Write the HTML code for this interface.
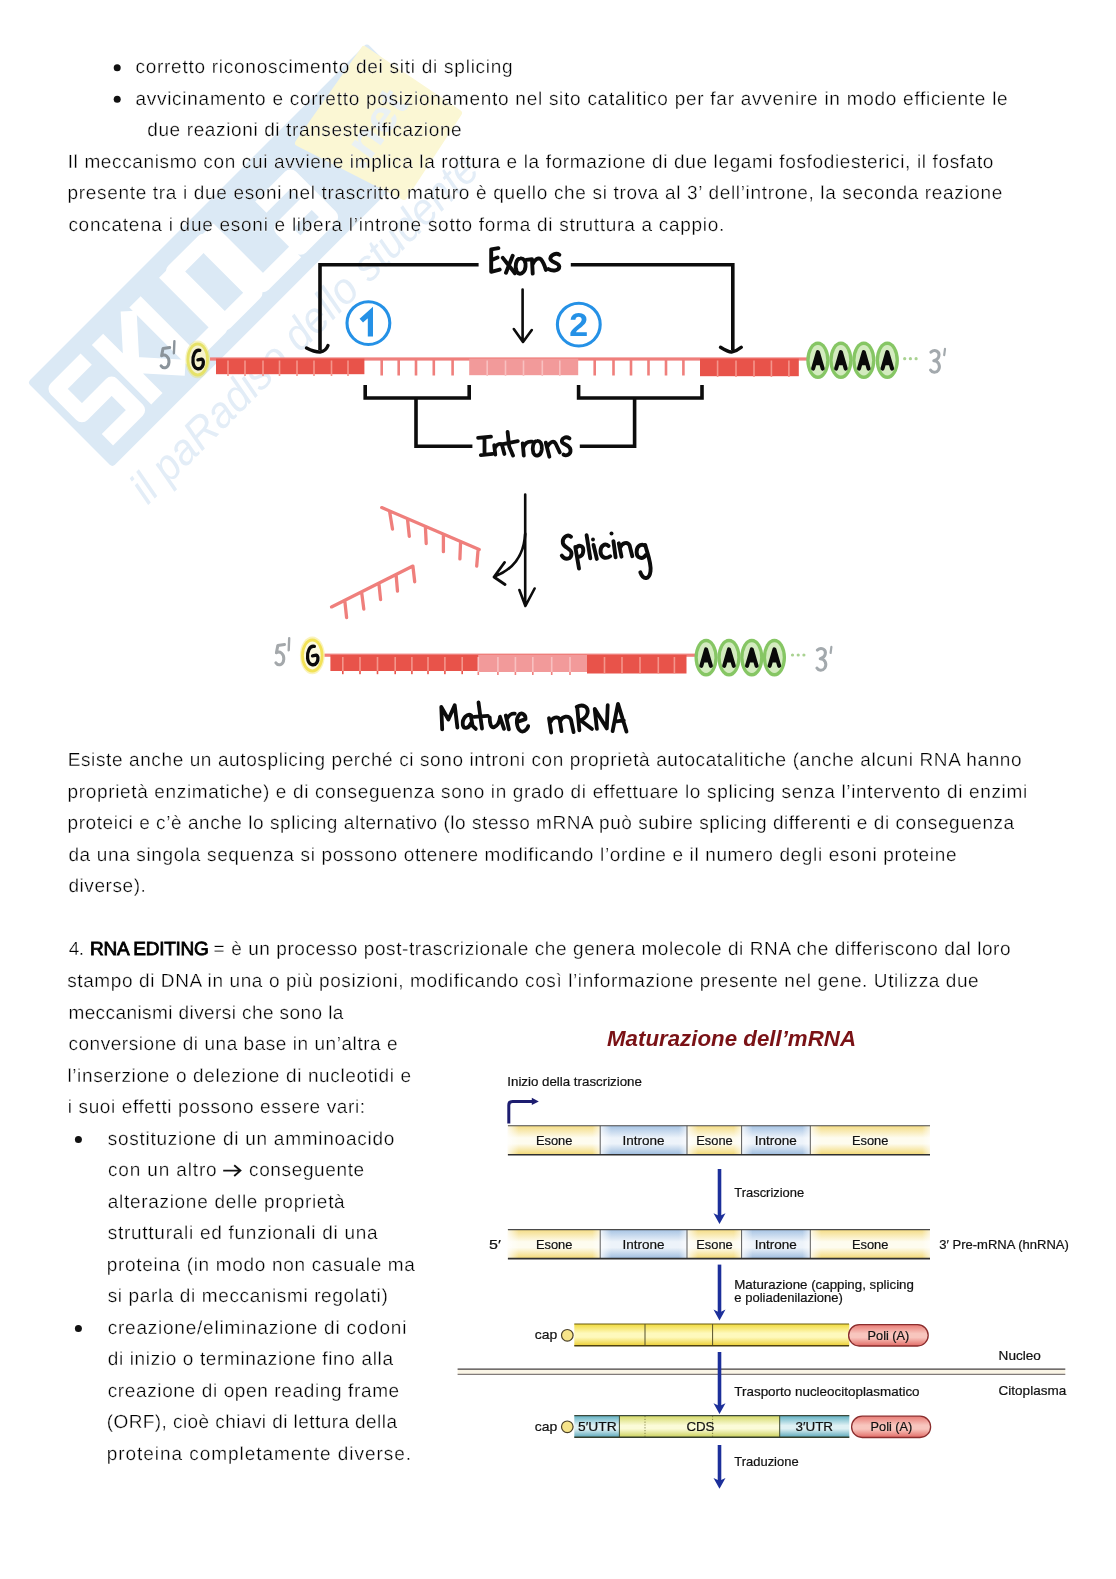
<!DOCTYPE html>
<html lang="it"><head><meta charset="utf-8"><title>Splicing e RNA editing</title>
<style>html,body{margin:0;padding:0;background:#fff}svg{display:block;will-change:transform}text{font-family:"Liberation Sans",sans-serif}.t{font-size:19px;fill:#000;stroke:#fff;stroke-width:0.3px;text-rendering:geometricPrecision}.b{stroke:#000;stroke-width:0.85px}.d{font-size:12.4px;fill:#111;stroke:#111;stroke-width:0.2px}</style></head><body>
<svg width="1116" height="1579" viewBox="0 0 1116 1579">
<rect width="1116" height="1579" fill="#fff"/>
<defs>
<linearGradient id="gEs" x1="0" y1="0" x2="0" y2="1"><stop offset="0" stop-color="#f4dc84"/><stop offset="0.42" stop-color="#fefcef"/><stop offset="0.62" stop-color="#fefcef"/><stop offset="1" stop-color="#f2d874"/></linearGradient>
<linearGradient id="gIn" x1="0" y1="0" x2="0" y2="1"><stop offset="0" stop-color="#a6c3e3"/><stop offset="0.42" stop-color="#edf3fa"/><stop offset="0.62" stop-color="#edf3fa"/><stop offset="1" stop-color="#9dbcde"/></linearGradient>
<linearGradient id="gYe" x1="0" y1="0" x2="0" y2="1"><stop offset="0" stop-color="#f1da3c"/><stop offset="0.42" stop-color="#fef9bc"/><stop offset="0.6" stop-color="#fef9bc"/><stop offset="1" stop-color="#ecce30"/></linearGradient>
<linearGradient id="gUt" x1="0" y1="0" x2="0" y2="1"><stop offset="0" stop-color="#5fb0c2"/><stop offset="0.45" stop-color="#dff1f4"/><stop offset="0.6" stop-color="#dff1f4"/><stop offset="1" stop-color="#57a6b8"/></linearGradient>
<linearGradient id="gCd" x1="0" y1="0" x2="0" y2="1"><stop offset="0" stop-color="#d3d865"/><stop offset="0.45" stop-color="#fbfbd8"/><stop offset="0.6" stop-color="#fbfbd8"/><stop offset="1" stop-color="#c9cf55"/></linearGradient>
<linearGradient id="gPo" x1="0" y1="0" x2="0" y2="1"><stop offset="0" stop-color="#e87b75"/><stop offset="0.42" stop-color="#f8c6be"/><stop offset="0.6" stop-color="#f8c6be"/><stop offset="1" stop-color="#e26b66"/></linearGradient>
<linearGradient id="hlL" x1="0" y1="0" x2="1" y2="0"><stop offset="0" stop-color="#fff" stop-opacity="0.8"/><stop offset="1" stop-color="#fff" stop-opacity="0"/></linearGradient>
<linearGradient id="hlR" x1="0" y1="0" x2="1" y2="0"><stop offset="0" stop-color="#fff" stop-opacity="0"/><stop offset="1" stop-color="#fff" stop-opacity="0.65"/></linearGradient>
</defs>

<g id="watermark" transform="translate(27.5 382.5) rotate(-45)">
<rect x="0" y="0" width="480" height="120" rx="4" fill="#dbe9f5"/>
<g transform="rotate(45) translate(-27.5 -382.5)"><path d="M364,49 L459,113 L404,197 L298,143 Z" fill="#fbf7d4" stroke="#fbf7d4" stroke-width="6" stroke-linejoin="round"/></g>
<path d="M58,25 H16 V61 H58 V97 H16" fill="none" stroke="#fff" stroke-width="16" stroke-linejoin="round" stroke-linecap="butt"/>
<path d="M80,19 V103 M122,21 L86,61 L122,101" fill="none" stroke="#fff" stroke-width="16" stroke-linejoin="round" stroke-linecap="butt"/>
<path d="M133,19 V97 H175 V19" fill="none" stroke="#fff" stroke-width="16" stroke-linejoin="round" stroke-linecap="butt"/>
<path d="M182,25 H224 V97 H182 Z" fill="none" stroke="#fff" stroke-width="16" stroke-linejoin="round" stroke-linecap="butt"/>
<path d="M236,19 V97 H282" fill="none" stroke="#fff" stroke-width="16" stroke-linejoin="round" stroke-linecap="butt"/>
<path d="M289,41 H331 V97 H289 V71 H331" fill="none" stroke="#fff" stroke-width="16" stroke-linejoin="round" stroke-linecap="butt"/>
<g transform="rotate(45) translate(-27.5 -382.5)"><text transform="translate(362 172) rotate(-55)" font-size="46" font-weight="bold" fill="#eaf1f4" textLength="84" lengthAdjust="spacingAndGlyphs">.net</text></g>
<text x="-2" y="172" font-size="44" font-style="italic" fill="#e3edf7" textLength="472" lengthAdjust="spacingAndGlyphs">il paRadiso dello studente</text>
</g>
<g id="diagram1">
<rect x="210" y="357.4" width="598" height="3.2" fill="#ef7f7c"/>
<rect x="216" y="358.6" width="148.4" height="15.6" fill="#e8534a"/>
<rect x="227.2" y="360.5" width="1.6" height="15.5" fill="#f4958b"/>
<rect x="244.2" y="360.5" width="1.6" height="15.5" fill="#f4958b"/>
<rect x="262.2" y="360.5" width="1.6" height="15.5" fill="#f4958b"/>
<rect x="278.7" y="360.5" width="1.6" height="15.5" fill="#f4958b"/>
<rect x="296.2" y="360.5" width="1.6" height="15.5" fill="#f4958b"/>
<rect x="313.2" y="360.5" width="1.6" height="15.5" fill="#f4958b"/>
<rect x="330.7" y="360.5" width="1.6" height="15.5" fill="#f4958b"/>
<rect x="347.2" y="360.5" width="1.6" height="15.5" fill="#f4958b"/>
<rect x="380.4" y="359" width="2.6" height="16.5" fill="#ef7f7c"/>
<rect x="397.4" y="359" width="2.6" height="16.5" fill="#ef7f7c"/>
<rect x="414.7" y="359" width="2.6" height="16.5" fill="#ef7f7c"/>
<rect x="432.5" y="359" width="2.6" height="16.5" fill="#ef7f7c"/>
<rect x="451.3" y="359" width="2.6" height="16.5" fill="#ef7f7c"/>
<rect x="469.2" y="358.6" width="109" height="16.6" fill="#f29a9a"/>
<rect x="486.4" y="360.5" width="1.6" height="15.5" fill="#f8c0c0"/>
<rect x="504.7" y="360.5" width="1.6" height="15.5" fill="#f8c0c0"/>
<rect x="522.7" y="360.5" width="1.6" height="15.5" fill="#f8c0c0"/>
<rect x="541.5" y="360.5" width="1.6" height="15.5" fill="#f8c0c0"/>
<rect x="559.0" y="360.5" width="1.6" height="15.5" fill="#f8c0c0"/>
<rect x="593.4" y="359" width="2.6" height="16.5" fill="#ef7f7c"/>
<rect x="612.2" y="359" width="2.6" height="16.5" fill="#ef7f7c"/>
<rect x="629.7" y="359" width="2.6" height="16.5" fill="#ef7f7c"/>
<rect x="647.2" y="359" width="2.6" height="16.5" fill="#ef7f7c"/>
<rect x="664.7" y="359" width="2.6" height="16.5" fill="#ef7f7c"/>
<rect x="682.1" y="359" width="2.6" height="16.5" fill="#ef7f7c"/>
<rect x="700" y="358.6" width="98.8" height="17.6" fill="#e8534a"/>
<rect x="716.8" y="360.5" width="1.6" height="16.5" fill="#f4958b"/>
<rect x="735.2" y="360.5" width="1.6" height="16.5" fill="#f4958b"/>
<rect x="753.2" y="360.5" width="1.6" height="16.5" fill="#f4958b"/>
<rect x="770.6" y="360.5" width="1.6" height="16.5" fill="#f4958b"/>
<rect x="788.1" y="360.5" width="1.6" height="16.5" fill="#f4958b"/>
<ellipse cx="197.7" cy="359.4" rx="12.4" ry="18.8" fill="#e6e268" opacity="0.4"/>
<ellipse cx="197.7" cy="359.4" rx="11.2" ry="17" fill="#e6e268"/>
<ellipse cx="197.7" cy="359.4" rx="8.4" ry="14" fill="#f5f2cc"/>
<path transform="translate(0.0 0.0)" d="M199.8,350.4 C195.1,349.3 192.3,355.8 193.0,362.2 C193.7,368.7 199.4,370.8 202.3,366.5 C203.9,363.7 203.7,359.7 201.6,359.2 L197.9,359.9" fill="none" stroke="#0a0a0a" stroke-width="3.3" stroke-linecap="round" stroke-linejoin="round"/>
<path transform="translate(0.0 0.0)" d="M169.7,347.5 L163.0,348.6 L161.6,355.8 C165.0,353.8 169.3,356.5 169.0,362.2 C168.6,368.0 163.6,369.4 161.1,365.8" fill="none" stroke="#8b949b" stroke-width="3" stroke-linecap="round" stroke-linejoin="round"/>
<path transform="translate(0.0 0.0)" d="M174.4,341.1 L173.9,353.3" fill="none" stroke="#8b949b" stroke-width="2.4" stroke-linecap="round"/>
<ellipse cx="817.9" cy="360.3" rx="11.6" ry="18.8" fill="#86c664"/>
<ellipse cx="817.9" cy="360.3" rx="8.3" ry="15.3" fill="#d3ebbf"/>
<path d="M813.1,368.6 L817.9,352.1 L822.7,368.6 M814.9,363.3 L820.9,363.3" fill="none" stroke="#0a0a0a" stroke-width="4" stroke-linecap="round" stroke-linejoin="round"/>
<path d="M814.3,364.8 L817.9,353.3 L821.5,364.8 Z" fill="#0a0a0a"/>
<ellipse cx="840.9" cy="360.3" rx="11.6" ry="18.8" fill="#86c664"/>
<ellipse cx="840.9" cy="360.3" rx="8.3" ry="15.3" fill="#d3ebbf"/>
<path d="M836.1,368.6 L840.9,352.1 L845.7,368.6 M837.9,363.3 L843.9,363.3" fill="none" stroke="#0a0a0a" stroke-width="4" stroke-linecap="round" stroke-linejoin="round"/>
<path d="M837.3,364.8 L840.9,353.3 L844.5,364.8 Z" fill="#0a0a0a"/>
<ellipse cx="863.8" cy="360.3" rx="11.6" ry="18.8" fill="#86c664"/>
<ellipse cx="863.8" cy="360.3" rx="8.3" ry="15.3" fill="#d3ebbf"/>
<path d="M859.0,368.6 L863.8,352.1 L868.6,368.6 M860.8,363.3 L866.8,363.3" fill="none" stroke="#0a0a0a" stroke-width="4" stroke-linecap="round" stroke-linejoin="round"/>
<path d="M860.2,364.8 L863.8,353.3 L867.4,364.8 Z" fill="#0a0a0a"/>
<ellipse cx="887.3" cy="360.3" rx="11.6" ry="18.8" fill="#86c664"/>
<ellipse cx="887.3" cy="360.3" rx="8.3" ry="15.3" fill="#d3ebbf"/>
<path d="M882.5,368.6 L887.3,352.1 L892.1,368.6 M884.3,363.3 L890.3,363.3" fill="none" stroke="#0a0a0a" stroke-width="4" stroke-linecap="round" stroke-linejoin="round"/>
<path d="M883.7,364.8 L887.3,353.3 L890.9,364.8 Z" fill="#0a0a0a"/>
<circle cx="904.7" cy="358.7" r="1.6" fill="#a9d291"/>
<circle cx="910.4" cy="358.7" r="1.6" fill="#a9d291"/>
<circle cx="916.1" cy="358.7" r="1.6" fill="#a9d291"/>
<path transform="translate(0.0 0.0)" d="M930.9,352.2 C934.8,348.6 940.1,351.5 938.8,356.5 C938.1,359.7 934.8,360.5 933.8,360.8 C938.4,360.8 940.9,365.8 938.4,370.1 C936.2,373.4 931.9,372.6 930.5,370.1" fill="none" stroke="#a3a9ad" stroke-width="3" stroke-linecap="round" stroke-linejoin="round"/>
<path transform="translate(0.0 0.0)" d="M945.0,348.9 L944.2,355.1" fill="none" stroke="#a3a9ad" stroke-width="2.2" stroke-linecap="round"/>
<path d="M478.6,264.7 H320 V350" fill="none" stroke="#0c0c0c" stroke-width="3.6" stroke-linejoin="miter"/>
<path d="M306.5,348 Q314,352 320,352 Q326,351 328,345.5" fill="none" stroke="#0c0c0c" stroke-width="3.4" stroke-linecap="round"/>
<path d="M570.8,264.7 H732.8 V350" fill="none" stroke="#0c0c0c" stroke-width="3.6" stroke-linejoin="miter"/>
<path d="M720.5,347.3 Q728,352 731.5,352 Q737,351 741.3,347.3" fill="none" stroke="#0c0c0c" stroke-width="3.4" stroke-linecap="round"/>
<path d="M522.6,289.5 V341 M513.8,329 L523,342 L531.8,330" fill="none" stroke="#0c0c0c" stroke-width="2.6" stroke-linecap="round" stroke-linejoin="round"/>
<path d="M498.4,248.1 L491.2,249.4 L491.2,271.8 L499.7,269.6 M491.2,260.2 L497.5,257.5" fill="none" stroke="#0c0c0c" stroke-width="3.9" stroke-linecap="round" stroke-linejoin="round"/>
<path d="M502.8,257.9 L514.9,273.2 M512.7,255.7 L506.0,272.7" fill="none" stroke="#0c0c0c" stroke-width="3.9" stroke-linecap="round" stroke-linejoin="round"/>
<path d="M520.3,258.4 C515.8,258.8 514.5,266.9 516.7,271.4 C519.4,275.8 524.8,273.2 525.5,266.9 C526.1,261.5 523.9,257.9 520.3,258.4 Z" fill="none" stroke="#0c0c0c" stroke-width="3.9" stroke-linecap="round" stroke-linejoin="round"/>
<path d="M526.1,259.9 L532.0,259.3 L532.7,273.6 M532.4,264.6 C534.7,259.3 538.2,257.0 540.9,259.3 C543.6,262.4 545.0,266.9 545.9,270.0" fill="none" stroke="#0c0c0c" stroke-width="3.9" stroke-linecap="round" stroke-linejoin="round"/>
<path d="M559.3,254.8 C556.2,252.5 550.8,254.8 550.3,258.4 C550.3,262.4 558.9,262.4 559.3,266.4 C559.3,270.9 552.6,271.4 548.5,269.1" fill="none" stroke="#0c0c0c" stroke-width="3.9" stroke-linecap="round" stroke-linejoin="round"/>
<circle cx="368.4" cy="323.1" r="21.4" fill="none" stroke="#2591e6" stroke-width="3.1"/>
<circle cx="578.8" cy="324.6" r="21.4" fill="none" stroke="#2591e6" stroke-width="3.1"/>
<path d="M361.3,320.6 L370.4,312.6 V336.4" fill="none" stroke="#2591e6" stroke-width="5.2" stroke-linejoin="miter"/>
<text x="578.8" y="336.2" font-size="34" font-weight="bold" fill="#2591e6" text-anchor="middle">2</text>
<path d="M365.2,385 V398 H469.2 V385 M416,398 V446.3 H472.4" fill="none" stroke="#0c0c0c" stroke-width="3.6"/>
<path d="M578.6,385 V398 H702 V385 M634.6,398 V446.3 H579.8" fill="none" stroke="#0c0c0c" stroke-width="3.6"/>
<path d="M478.1,437.9 L491.0,436.6 M484.5,437.4 L484.5,454.6 M480.8,455.1 L492.6,453.8" fill="none" stroke="#0c0c0c" stroke-width="3.8" stroke-linecap="round" stroke-linejoin="round"/>
<path d="M494.2,445.2 L495.3,454.6 M494.9,448.1 C496.9,443.3 501.2,442.7 502.3,446.0 L504.4,454.0" fill="none" stroke="#0c0c0c" stroke-width="3.8" stroke-linecap="round" stroke-linejoin="round"/>
<path d="M507.6,432.0 L509.2,446.5 L513.0,455.6 M501.7,444.4 L517.8,441.1" fill="none" stroke="#0c0c0c" stroke-width="3.8" stroke-linecap="round" stroke-linejoin="round"/>
<path d="M522.7,443.3 L523.8,455.6 M523.2,447.6 C524.8,443.3 528.1,441.1 532.2,441.7" fill="none" stroke="#0c0c0c" stroke-width="3.8" stroke-linecap="round" stroke-linejoin="round"/>
<path d="M537.2,440.9 C532.9,441.1 531.8,448.7 533.4,453.0 C535.6,457.3 541.0,456.2 541.8,449.2 C542.3,443.3 539.9,440.7 537.2,440.9 Z" fill="none" stroke="#0c0c0c" stroke-width="3.8" stroke-linecap="round" stroke-linejoin="round"/>
<path d="M545.8,442.7 L549.4,456.7 M547.2,447.0 C549.6,442.2 553.3,440.1 555.5,443.3 L559.8,452.4" fill="none" stroke="#0c0c0c" stroke-width="3.8" stroke-linecap="round" stroke-linejoin="round"/>
<path d="M569.5,438.4 C565.7,435.8 561.4,438.4 561.9,441.7 C562.5,444.9 569.5,444.4 570.5,449.7 C571.1,455.1 565.7,456.2 563.5,454.6" fill="none" stroke="#0c0c0c" stroke-width="3.8" stroke-linecap="round" stroke-linejoin="round"/>
<path d="M525.2,494.5 V605 M519.4,590 L525.4,606 L534.6,588.5" fill="none" stroke="#0c0c0c" stroke-width="2.6" stroke-linecap="round" stroke-linejoin="round"/>
<path d="M525.2,534 C524,556 512,570 494.5,576.5 M504.5,562.5 L494,577 L505,584.5" fill="none" stroke="#0c0c0c" stroke-width="2.8" stroke-linecap="round" stroke-linejoin="round"/>
<path d="M381.7,507.6 L479.2,549.6 M389.6,511.6 L392.5,529.1 M407.5,519.1 L409.3,536.3 M425.4,526.6 L426.2,543.5 M443.4,534.5 L443.4,551.7 M460.6,541.7 L459.9,558.9 M478.1,549.6 L476.7,566.1" fill="none" stroke="#ef7f7c" stroke-width="3.3" stroke-linecap="round" stroke-linejoin="round"/>
<path d="M331.5,606.9 L412.9,566.1 M344.8,600.8 L346.6,617.7 M361.6,591.9 L363.8,609.1 M378.9,583.3 L380.6,599.7 M396.1,574.7 L397.5,591.1 M412.9,566.1 L414.7,581.8" fill="none" stroke="#ef7f7c" stroke-width="3.3" stroke-linecap="round" stroke-linejoin="round"/>
<path d="M571.0,536.8 C567.2,533.6 561.8,537.9 562.9,543.3 C564.0,548.1 571.5,548.1 571.5,553.5 C571.5,559.4 565.1,560.5 561.8,555.6" fill="none" stroke="#0c0c0c" stroke-width="3.9" stroke-linecap="round" stroke-linejoin="round"/>
<path d="M575.3,547.0 L579.0,568.5 M575.8,548.7 C578.0,544.4 583.3,544.9 583.3,550.3 C583.3,555.6 579.6,557.8 577.4,556.2" fill="none" stroke="#0c0c0c" stroke-width="3.9" stroke-linecap="round" stroke-linejoin="round"/>
<path d="M586.6,535.2 L590.3,558.3" fill="none" stroke="#0c0c0c" stroke-width="3.9" stroke-linecap="round" stroke-linejoin="round"/>
<path d="M593.5,544.9 L596.8,558.9" fill="none" stroke="#0c0c0c" stroke-width="3.9" stroke-linecap="round" stroke-linejoin="round"/>
<path d="M608.6,546.0 C604.8,542.7 600.5,546.0 600.5,551.3 C600.5,557.8 605.9,559.4 610.2,556.2" fill="none" stroke="#0c0c0c" stroke-width="3.9" stroke-linecap="round" stroke-linejoin="round"/>
<path d="M613.4,541.1 L615.6,557.3" fill="none" stroke="#0c0c0c" stroke-width="3.9" stroke-linecap="round" stroke-linejoin="round"/>
<path d="M618.8,543.3 L621.5,556.7 M619.9,548.1 C622.0,542.7 627.4,541.1 629.6,545.4 L632.3,556.2" fill="none" stroke="#0c0c0c" stroke-width="3.9" stroke-linecap="round" stroke-linejoin="round"/>
<path d="M645.7,546.5 C642.5,542.7 636.6,545.4 636.6,551.9 C636.6,558.3 642.5,559.9 645.7,555.1 M645.2,544.9 C646.8,551.9 651.6,562.6 650.5,571.2 C649.5,579.3 643.5,580.9 640.3,572.3" fill="none" stroke="#0c0c0c" stroke-width="3.9" stroke-linecap="round" stroke-linejoin="round"/>
<circle cx="593.0" cy="539.5" r="1.9" fill="#0c0c0c"/>
<circle cx="611.5" cy="533.6" r="2.0" fill="#0c0c0c"/>
<rect x="324.5" y="653.6" width="370.5" height="3.2" fill="#ef7f7c"/>
<rect x="330.4" y="655" width="148" height="16" fill="#e8534a"/>
<rect x="342.0" y="657" width="1.6" height="14" fill="#f4958b"/>
<rect x="342.0" y="671" width="1.6" height="3.2" fill="#e8534a"/>
<rect x="359.2" y="657" width="1.6" height="14" fill="#f4958b"/>
<rect x="359.2" y="671" width="1.6" height="3.2" fill="#e8534a"/>
<rect x="376.7" y="657" width="1.6" height="14" fill="#f4958b"/>
<rect x="376.7" y="671" width="1.6" height="3.2" fill="#e8534a"/>
<rect x="394.4" y="657" width="1.6" height="14" fill="#f4958b"/>
<rect x="394.4" y="671" width="1.6" height="3.2" fill="#e8534a"/>
<rect x="411.1" y="657" width="1.6" height="14" fill="#f4958b"/>
<rect x="411.1" y="671" width="1.6" height="3.2" fill="#e8534a"/>
<rect x="427.2" y="657" width="1.6" height="14" fill="#f4958b"/>
<rect x="427.2" y="671" width="1.6" height="3.2" fill="#e8534a"/>
<rect x="444.1" y="657" width="1.6" height="14" fill="#f4958b"/>
<rect x="444.1" y="671" width="1.6" height="3.2" fill="#e8534a"/>
<rect x="461.4" y="657" width="1.6" height="14" fill="#f4958b"/>
<rect x="461.4" y="671" width="1.6" height="3.2" fill="#e8534a"/>
<rect x="478.3" y="655" width="108.7" height="17" fill="#f29a9a"/>
<rect x="477.5" y="657" width="1.6" height="15" fill="#f8c0c0"/>
<rect x="477.5" y="672" width="1.6" height="3" fill="#ef7f7c"/>
<rect x="497.1" y="657" width="1.6" height="15" fill="#f8c0c0"/>
<rect x="497.1" y="672" width="1.6" height="3" fill="#ef7f7c"/>
<rect x="514.6" y="657" width="1.6" height="15" fill="#f8c0c0"/>
<rect x="514.6" y="672" width="1.6" height="3" fill="#ef7f7c"/>
<rect x="532.0" y="657" width="1.6" height="15" fill="#f8c0c0"/>
<rect x="532.0" y="672" width="1.6" height="3" fill="#ef7f7c"/>
<rect x="550.9" y="657" width="1.6" height="15" fill="#f8c0c0"/>
<rect x="550.9" y="672" width="1.6" height="3" fill="#ef7f7c"/>
<rect x="569.2" y="657" width="1.6" height="15" fill="#f8c0c0"/>
<rect x="569.2" y="672" width="1.6" height="3" fill="#ef7f7c"/>
<rect x="587" y="655" width="99.5" height="18.5" fill="#e8534a"/>
<rect x="603.7" y="657" width="1.6" height="16.5" fill="#f4958b"/>
<rect x="621.2" y="657" width="1.6" height="16.5" fill="#f4958b"/>
<rect x="639.2" y="657" width="1.6" height="16.5" fill="#f4958b"/>
<rect x="657.5" y="657" width="1.6" height="16.5" fill="#f4958b"/>
<rect x="673.6" y="657" width="1.6" height="16.5" fill="#f4958b"/>
<ellipse cx="312.3" cy="655.4" rx="12.4" ry="18.8" fill="#f2e258" opacity="0.4"/>
<ellipse cx="312.3" cy="655.4" rx="11.2" ry="17" fill="#f2e258"/>
<ellipse cx="312.3" cy="655.4" rx="8.4" ry="14" fill="#fcfae0"/>
<path transform="translate(114.6 296.0)" d="M199.8,350.4 C195.1,349.3 192.3,355.8 193.0,362.2 C193.7,368.7 199.4,370.8 202.3,366.5 C203.9,363.7 203.7,359.7 201.6,359.2 L197.9,359.9" fill="none" stroke="#0a0a0a" stroke-width="3.3" stroke-linecap="round" stroke-linejoin="round"/>
<path transform="translate(114.8 297.0)" d="M169.7,347.5 L163.0,348.6 L161.6,355.8 C165.0,353.8 169.3,356.5 169.0,362.2 C168.6,368.0 163.6,369.4 161.1,365.8" fill="none" stroke="#a4a8ab" stroke-width="3" stroke-linecap="round" stroke-linejoin="round"/>
<path transform="translate(114.8 297.0)" d="M174.4,341.1 L173.9,353.3" fill="none" stroke="#a4a8ab" stroke-width="2.4" stroke-linecap="round"/>
<ellipse cx="706.1" cy="657.6" rx="11.6" ry="18.8" fill="#86c664"/>
<ellipse cx="706.1" cy="657.6" rx="8.3" ry="15.3" fill="#d3ebbf"/>
<path d="M701.3,665.9 L706.1,649.4 L710.9,665.9 M703.1,660.6 L709.1,660.6" fill="none" stroke="#0a0a0a" stroke-width="4" stroke-linecap="round" stroke-linejoin="round"/>
<path d="M702.5,662.1 L706.1,650.6 L709.7,662.1 Z" fill="#0a0a0a"/>
<ellipse cx="729.0" cy="657.6" rx="11.6" ry="18.8" fill="#86c664"/>
<ellipse cx="729.0" cy="657.6" rx="8.3" ry="15.3" fill="#d3ebbf"/>
<path d="M724.2,665.9 L729.0,649.4 L733.8,665.9 M726.0,660.6 L732.0,660.6" fill="none" stroke="#0a0a0a" stroke-width="4" stroke-linecap="round" stroke-linejoin="round"/>
<path d="M725.4,662.1 L729.0,650.6 L732.6,662.1 Z" fill="#0a0a0a"/>
<ellipse cx="751.8" cy="657.6" rx="11.6" ry="18.8" fill="#86c664"/>
<ellipse cx="751.8" cy="657.6" rx="8.3" ry="15.3" fill="#d3ebbf"/>
<path d="M747.0,665.9 L751.8,649.4 L756.6,665.9 M748.8,660.6 L754.8,660.6" fill="none" stroke="#0a0a0a" stroke-width="4" stroke-linecap="round" stroke-linejoin="round"/>
<path d="M748.2,662.1 L751.8,650.6 L755.4,662.1 Z" fill="#0a0a0a"/>
<ellipse cx="774.4" cy="657.6" rx="11.6" ry="18.8" fill="#86c664"/>
<ellipse cx="774.4" cy="657.6" rx="8.3" ry="15.3" fill="#d3ebbf"/>
<path d="M769.6,665.9 L774.4,649.4 L779.2,665.9 M771.4,660.6 L777.4,660.6" fill="none" stroke="#0a0a0a" stroke-width="4" stroke-linecap="round" stroke-linejoin="round"/>
<path d="M770.8,662.1 L774.4,650.6 L778.0,662.1 Z" fill="#0a0a0a"/>
<circle cx="792.5" cy="655" r="1.6" fill="#a9d291"/>
<circle cx="798.2" cy="655" r="1.6" fill="#a9d291"/>
<circle cx="803.9" cy="655" r="1.6" fill="#a9d291"/>
<path transform="translate(-113.6 297.9)" d="M930.9,352.2 C934.8,348.6 940.1,351.5 938.8,356.5 C938.1,359.7 934.8,360.5 933.8,360.8 C938.4,360.8 940.9,365.8 938.4,370.1 C936.2,373.4 931.9,372.6 930.5,370.1" fill="none" stroke="#a3a9ad" stroke-width="3" stroke-linecap="round" stroke-linejoin="round"/>
<path transform="translate(-113.6 297.9)" d="M945.0,348.9 L944.2,355.1" fill="none" stroke="#a3a9ad" stroke-width="2.2" stroke-linecap="round"/>
<path d="M442.2,729.4 L441.3,707.0 L448.4,719.5 L454.7,705.2 L457.4,727.6" fill="none" stroke="#0c0c0c" stroke-width="3.8" stroke-linecap="round" stroke-linejoin="round"/>
<path d="M471.3,715.5 C467.7,712.8 461.9,718.2 462.8,724.9 C463.7,729.4 468.6,728.9 470.8,723.5 M470.8,715.5 L472.6,725.8 L475.8,728.9" fill="none" stroke="#0c0c0c" stroke-width="3.8" stroke-linecap="round" stroke-linejoin="round"/>
<path d="M478.5,702.5 L482.0,728.5 M474.0,716.8 L487.9,715.9" fill="none" stroke="#0c0c0c" stroke-width="3.8" stroke-linecap="round" stroke-linejoin="round"/>
<path d="M489.7,717.3 C489.7,724.0 491.0,728.0 494.1,727.1 C497.7,725.8 499.5,721.3 500.0,717.3 M500.0,716.8 L504.0,728.9" fill="none" stroke="#0c0c0c" stroke-width="3.8" stroke-linecap="round" stroke-linejoin="round"/>
<path d="M505.8,715.5 L508.9,729.4 M506.7,719.5 C508.5,715.0 512.1,713.2 514.7,713.7" fill="none" stroke="#0c0c0c" stroke-width="3.8" stroke-linecap="round" stroke-linejoin="round"/>
<path d="M517.9,721.7 L525.5,719.1 C525.9,714.1 521.0,711.4 518.3,715.9 C515.2,721.3 517.4,731.2 522.4,731.6 C525.5,731.6 527.7,728.0 528.2,726.2" fill="none" stroke="#0c0c0c" stroke-width="3.8" stroke-linecap="round" stroke-linejoin="round"/>
<path d="M549.0,718.2 L551.2,732.5 M550.3,722.2 C552.5,716.8 557.9,715.9 559.7,719.5 L561.5,731.2 M560.2,721.3 C562.4,715.9 568.7,715.0 570.9,719.5 L573.6,732.1" fill="none" stroke="#0c0c0c" stroke-width="3.8" stroke-linecap="round" stroke-linejoin="round"/>
<path d="M577.2,707.0 L579.4,730.3 M576.7,707.0 C583.0,703.4 588.8,707.0 587.5,713.2 C586.6,717.7 582.1,720.0 579.4,720.4 M580.8,720.4 L592.0,728.9" fill="none" stroke="#0c0c0c" stroke-width="3.8" stroke-linecap="round" stroke-linejoin="round"/>
<path d="M596.9,728.9 L594.7,708.8 L606.8,728.5 L607.7,705.2" fill="none" stroke="#0c0c0c" stroke-width="3.8" stroke-linecap="round" stroke-linejoin="round"/>
<path d="M612.6,731.2 L618.0,703.8 L626.5,731.6 M614.8,721.7 L623.8,720.4" fill="none" stroke="#0c0c0c" stroke-width="3.8" stroke-linecap="round" stroke-linejoin="round"/>
</g>
<g id="diagram2">
<text x="607.0" y="1046" font-size="22.6" font-weight="bold" font-style="italic" fill="#7a1216" textLength="249" lengthAdjust="spacingAndGlyphs">Maturazione dell’mRNA</text>
<text class="d" x="507.30" y="1086.20" textLength="134.60" lengthAdjust="spacingAndGlyphs" >Inizio della trascrizione</text>
<path d="M508.8,1123.6 V1105.2 Q508.8,1101.4 512.6,1101.4 H533" fill="none" stroke="#1d1d70" stroke-width="3"/>
<path d="M531.8,1097.8 L538.8,1101.4 L531.8,1105 Z" fill="#1d1d70"/>
<rect x="507.9" y="1125.8" width="92.3" height="28.9" fill="url(#gEs)"/>
<rect x="600.2" y="1125.8" width="86.8" height="28.9" fill="url(#gIn)"/>
<rect x="687.0" y="1125.8" width="54.6" height="28.9" fill="url(#gEs)"/>
<rect x="741.6" y="1125.8" width="68.7" height="28.9" fill="url(#gIn)"/>
<rect x="810.3" y="1125.8" width="119.7" height="28.9" fill="url(#gEs)"/>
<rect x="507.9" y="1125.8" width="11" height="28.9" fill="url(#hlL)"/>
<rect x="592.2" y="1125.8" width="8" height="28.9" fill="url(#hlR)"/>
<rect x="600.2" y="1125.8" width="11" height="28.9" fill="url(#hlL)"/>
<rect x="679.0" y="1125.8" width="8" height="28.9" fill="url(#hlR)"/>
<rect x="687.0" y="1125.8" width="11" height="28.9" fill="url(#hlL)"/>
<rect x="733.6" y="1125.8" width="8" height="28.9" fill="url(#hlR)"/>
<rect x="741.6" y="1125.8" width="11" height="28.9" fill="url(#hlL)"/>
<rect x="802.3" y="1125.8" width="8" height="28.9" fill="url(#hlR)"/>
<rect x="810.3" y="1125.8" width="11" height="28.9" fill="url(#hlL)"/>
<rect x="922.0" y="1125.8" width="8" height="28.9" fill="url(#hlR)"/>
<line x1="600.2" y1="1125.8" x2="600.2" y2="1154.7" stroke="#5a5a5a" stroke-width="1"/>
<line x1="687.0" y1="1125.8" x2="687.0" y2="1154.7" stroke="#5a5a5a" stroke-width="1"/>
<line x1="741.6" y1="1125.8" x2="741.6" y2="1154.7" stroke="#5a5a5a" stroke-width="1"/>
<line x1="810.3" y1="1125.8" x2="810.3" y2="1154.7" stroke="#5a5a5a" stroke-width="1"/>
<line x1="507.9" y1="1125.8" x2="930" y2="1125.8" stroke="#4a4a4a" stroke-width="1.1"/>
<line x1="507.9" y1="1154.7" x2="930" y2="1154.7" stroke="#2f2f2f" stroke-width="1.6"/>
<text class="d" x="535.95" y="1144.70" textLength="36.50" lengthAdjust="spacingAndGlyphs" >Esone</text>
<text class="d" x="622.50" y="1144.70" textLength="42.00" lengthAdjust="spacingAndGlyphs" >Introne</text>
<text class="d" x="696.25" y="1144.70" textLength="36.50" lengthAdjust="spacingAndGlyphs" >Esone</text>
<text class="d" x="754.80" y="1144.70" textLength="42.00" lengthAdjust="spacingAndGlyphs" >Introne</text>
<text class="d" x="851.95" y="1144.70" textLength="36.50" lengthAdjust="spacingAndGlyphs" >Esone</text>
<line x1="719.5" y1="1169.0" x2="719.5" y2="1218.1" stroke="#1c2f9a" stroke-width="3.6"/>
<path d="M719.5,1224.1 L713.5,1213.3 L719.5,1216.1 L725.5,1213.3 Z" fill="#1c2f9a"/>
<text class="d" x="734.30" y="1197.40" textLength="69.90" lengthAdjust="spacingAndGlyphs" >Trascrizione</text>
<rect x="507.9" y="1229.6" width="92.3" height="29.0" fill="url(#gEs)"/>
<rect x="600.2" y="1229.6" width="86.8" height="29.0" fill="url(#gIn)"/>
<rect x="687.0" y="1229.6" width="54.6" height="29.0" fill="url(#gEs)"/>
<rect x="741.6" y="1229.6" width="68.7" height="29.0" fill="url(#gIn)"/>
<rect x="810.3" y="1229.6" width="119.7" height="29.0" fill="url(#gEs)"/>
<rect x="507.9" y="1229.6" width="11" height="29.0" fill="url(#hlL)"/>
<rect x="592.2" y="1229.6" width="8" height="29.0" fill="url(#hlR)"/>
<rect x="600.2" y="1229.6" width="11" height="29.0" fill="url(#hlL)"/>
<rect x="679.0" y="1229.6" width="8" height="29.0" fill="url(#hlR)"/>
<rect x="687.0" y="1229.6" width="11" height="29.0" fill="url(#hlL)"/>
<rect x="733.6" y="1229.6" width="8" height="29.0" fill="url(#hlR)"/>
<rect x="741.6" y="1229.6" width="11" height="29.0" fill="url(#hlL)"/>
<rect x="802.3" y="1229.6" width="8" height="29.0" fill="url(#hlR)"/>
<rect x="810.3" y="1229.6" width="11" height="29.0" fill="url(#hlL)"/>
<rect x="922.0" y="1229.6" width="8" height="29.0" fill="url(#hlR)"/>
<line x1="600.2" y1="1229.6" x2="600.2" y2="1258.6" stroke="#5a5a5a" stroke-width="1"/>
<line x1="687.0" y1="1229.6" x2="687.0" y2="1258.6" stroke="#5a5a5a" stroke-width="1"/>
<line x1="741.6" y1="1229.6" x2="741.6" y2="1258.6" stroke="#5a5a5a" stroke-width="1"/>
<line x1="810.3" y1="1229.6" x2="810.3" y2="1258.6" stroke="#5a5a5a" stroke-width="1"/>
<line x1="507.9" y1="1229.6" x2="930" y2="1229.6" stroke="#4a4a4a" stroke-width="1.1"/>
<line x1="507.9" y1="1258.6" x2="930" y2="1258.6" stroke="#2f2f2f" stroke-width="1.6"/>
<text class="d" x="535.95" y="1248.60" textLength="36.50" lengthAdjust="spacingAndGlyphs" >Esone</text>
<text class="d" x="622.50" y="1248.60" textLength="42.00" lengthAdjust="spacingAndGlyphs" >Introne</text>
<text class="d" x="696.25" y="1248.60" textLength="36.50" lengthAdjust="spacingAndGlyphs" >Esone</text>
<text class="d" x="754.80" y="1248.60" textLength="42.00" lengthAdjust="spacingAndGlyphs" >Introne</text>
<text class="d" x="851.95" y="1248.60" textLength="36.50" lengthAdjust="spacingAndGlyphs" >Esone</text>
<text class="d" x="489.00" y="1248.80" textLength="11.90" lengthAdjust="spacingAndGlyphs" >5′</text>
<text class="d" x="939.20" y="1248.80" textLength="129.70" lengthAdjust="spacingAndGlyphs" >3′ Pre-mRNA (hnRNA)</text>
<line x1="719.5" y1="1264.6" x2="719.5" y2="1314.4" stroke="#1c2f9a" stroke-width="3.6"/>
<path d="M719.5,1320.4 L713.5,1309.6 L719.5,1312.4 L725.5,1309.6 Z" fill="#1c2f9a"/>
<text class="d" x="734.30" y="1289.00" textLength="179.60" lengthAdjust="spacingAndGlyphs" >Maturazione (capping, splicing</text>
<text class="d" x="734.30" y="1302.00" textLength="108.60" lengthAdjust="spacingAndGlyphs" >e poliadenilazione)</text>
<rect x="574.3" y="1324" width="275" height="22" fill="url(#gYe)"/>
<line x1="645.0" y1="1324" x2="645.0" y2="1346" stroke="#55502a" stroke-width="1"/>
<line x1="712.6" y1="1324" x2="712.6" y2="1346" stroke="#55502a" stroke-width="1"/>
<line x1="574.3" y1="1324" x2="849" y2="1324" stroke="#6b5d12" stroke-width="1.2"/>
<line x1="574.3" y1="1345.8" x2="849" y2="1345.8" stroke="#4f4210" stroke-width="1.5"/>
<rect x="848.6" y="1324.6" width="79.6" height="21.4" rx="10.7" fill="url(#gPo)" stroke="#8a2d2d" stroke-width="1.3"/>
<text class="d" x="867.60" y="1340.00" textLength="41.70" lengthAdjust="spacingAndGlyphs" >Poli (A)</text>
<circle cx="567.3" cy="1335.3" r="5.8" fill="#f6e48a" stroke="#4a4028" stroke-width="1.2"/>
<text class="d" x="534.70" y="1339.30" textLength="22.50" lengthAdjust="spacingAndGlyphs" >cap</text>
<rect x="457.6" y="1369.2" width="607.7" height="5.1" fill="#faf5e6"/>
<line x1="457.6" y1="1369.2" x2="1065.3" y2="1369.2" stroke="#454040" stroke-width="1.3"/>
<line x1="457.6" y1="1374.3" x2="1065.3" y2="1374.3" stroke="#504848" stroke-width="0.9"/>
<line x1="719.5" y1="1352.0" x2="719.5" y2="1408.0" stroke="#1c2f9a" stroke-width="3.6"/>
<path d="M719.5,1414.0 L713.5,1403.2 L719.5,1406.0 L725.5,1403.2 Z" fill="#1c2f9a"/>
<text class="d" x="998.60" y="1360.00" textLength="42.30" lengthAdjust="spacingAndGlyphs" >Nucleo</text>
<text class="d" x="998.60" y="1394.80" textLength="67.60" lengthAdjust="spacingAndGlyphs" >Citoplasma</text>
<text class="d" x="734.30" y="1395.50" textLength="185.30" lengthAdjust="spacingAndGlyphs" >Trasporto nucleocitoplasmatico</text>
<rect x="574.3" y="1415.6" width="45.1" height="21.9" fill="url(#gUt)"/>
<rect x="619.4" y="1415.6" width="160.3" height="21.9" fill="url(#gCd)"/>
<rect x="779.7" y="1415.6" width="69.6" height="21.9" fill="url(#gUt)"/>
<line x1="619.4" y1="1415.6" x2="619.4" y2="1437.5" stroke="#3f4a2a" stroke-width="1"/>
<line x1="779.7" y1="1415.6" x2="779.7" y2="1437.5" stroke="#3f4a2a" stroke-width="1"/>
<line x1="645.0" y1="1416" x2="645.0" y2="1437" stroke="#7a7a40" stroke-width="0.9" stroke-dasharray="1.2 1.6"/>
<line x1="712.6" y1="1416" x2="712.6" y2="1437" stroke="#7a7a40" stroke-width="0.9" stroke-dasharray="1.2 1.6"/>
<line x1="574.3" y1="1415.6" x2="849.3" y2="1415.6" stroke="#3c4a3c" stroke-width="1.2"/>
<line x1="574.3" y1="1437.3" x2="849.3" y2="1437.3" stroke="#333d2c" stroke-width="1.5"/>
<rect x="851.6" y="1416.2" width="79" height="21.3" rx="10.6" fill="url(#gPo)" stroke="#8a2d2d" stroke-width="1.3"/>
<text class="d" x="870.60" y="1431.40" textLength="41.70" lengthAdjust="spacingAndGlyphs" >Poli (A)</text>
<circle cx="567.3" cy="1426.8" r="5.8" fill="#f6e48a" stroke="#4a4028" stroke-width="1.2"/>
<text class="d" x="534.70" y="1430.80" textLength="22.50" lengthAdjust="spacingAndGlyphs" >cap</text>
<text class="d" x="578.00" y="1431.40" textLength="38.60" lengthAdjust="spacingAndGlyphs" >5′UTR</text>
<text class="d" x="686.40" y="1431.40" textLength="28.10" lengthAdjust="spacingAndGlyphs" >CDS</text>
<text class="d" x="795.40" y="1431.40" textLength="37.70" lengthAdjust="spacingAndGlyphs" >3′UTR</text>
<line x1="719.5" y1="1445.0" x2="719.5" y2="1482.7" stroke="#1c2f9a" stroke-width="3.6"/>
<path d="M719.5,1488.7 L713.5,1477.9 L719.5,1480.7 L725.5,1477.9 Z" fill="#1c2f9a"/>
<text class="d" x="734.30" y="1465.50" textLength="64.30" lengthAdjust="spacingAndGlyphs" >Traduzione</text>
</g>
<g id="maintext">
<text class="t" x="135.40" y="73.30" textLength="377.30" lengthAdjust="spacing" xml:space="preserve">corretto riconoscimento dei siti di splicing</text>
<text class="t" x="135.40" y="104.70" textLength="872.30" lengthAdjust="spacing" xml:space="preserve">avvicinamento e corretto posizionamento nel sito catalitico per far avvenire in modo efficiente le</text>
<text class="t" x="147.20" y="136.20" textLength="314.50" lengthAdjust="spacing" xml:space="preserve">due reazioni di transesterificazione</text>
<text class="t" x="67.70" y="167.60" textLength="925.70" lengthAdjust="spacing" xml:space="preserve">Il meccanismo con cui avviene implica la rottura e la formazione di due legami fosfodiesterici, il fosfato</text>
<text class="t" x="67.60" y="199.10" textLength="934.80" lengthAdjust="spacing" xml:space="preserve">presente tra i due esoni nel trascritto maturo è quello che si trova al 3’ dell’introne, la seconda reazione</text>
<text class="t" x="68.40" y="230.50" textLength="656.00" lengthAdjust="spacing" xml:space="preserve">concatena i due esoni e libera l’introne sotto forma di struttura a cappio.</text>
<text class="t" x="67.70" y="766.00" textLength="953.90" lengthAdjust="spacing" xml:space="preserve">Esiste anche un autosplicing perché ci sono introni con proprietà autocatalitiche (anche alcuni RNA hanno</text>
<text class="t" x="67.60" y="797.50" textLength="959.60" lengthAdjust="spacing" xml:space="preserve">proprietà enzimatiche) e di conseguenza sono in grado di effettuare lo splicing senza l’intervento di enzimi</text>
<text class="t" x="67.60" y="829.00" textLength="946.60" lengthAdjust="spacing" xml:space="preserve">proteici e c’è anche lo splicing alternativo (lo stesso mRNA può subire splicing differenti e di conseguenza</text>
<text class="t" x="68.40" y="860.50" textLength="888.10" lengthAdjust="spacing" xml:space="preserve">da una singola sequenza si possono ottenere modificando l’ordine e il numero degli esoni proteine</text>
<text class="t" x="68.40" y="892.00" textLength="77.40" lengthAdjust="spacing" xml:space="preserve">diverse).</text>
<text class="t" x="68.80" y="954.70" textLength="15.20" lengthAdjust="spacing" xml:space="preserve">4.</text>
<text class="t b" x="90.00" y="954.70" textLength="118.80" lengthAdjust="spacing" xml:space="preserve">RNA EDITING</text>
<text class="t" x="213.60" y="954.70" textLength="797.00" lengthAdjust="spacing" xml:space="preserve">= è un processo post-trascrizionale che genera molecole di RNA che differiscono dal loro</text>
<text class="t" x="67.20" y="986.90" textLength="911.50" lengthAdjust="spacing" xml:space="preserve">stampo di DNA in una o più posizioni, modificando così l’informazione presente nel gene. Utilizza due</text>
<text class="t" x="68.40" y="1018.90" textLength="275.00" lengthAdjust="spacing" xml:space="preserve">meccanismi diversi che sono la</text>
<text class="t" x="68.40" y="1050.40" textLength="329.20" lengthAdjust="spacing" xml:space="preserve">conversione di una base in un’altra e</text>
<text class="t" x="67.40" y="1081.90" textLength="343.60" lengthAdjust="spacing" xml:space="preserve">l’inserzione o delezione di nucleotidi e</text>
<text class="t" x="67.80" y="1113.40" textLength="297.20" lengthAdjust="spacing" xml:space="preserve">i suoi effetti possono essere vari:</text>
<text class="t" x="107.70" y="1144.90" textLength="286.60" lengthAdjust="spacing" xml:space="preserve">sostituzione di un amminoacido</text>
<text class="t" x="107.90" y="1176.40" textLength="108.80" lengthAdjust="spacing" xml:space="preserve">con un altro</text>
<text class="t" x="107.70" y="1207.90" textLength="237.00" lengthAdjust="spacing" xml:space="preserve">alterazione delle proprietà</text>
<text class="t" x="107.70" y="1239.40" textLength="270.00" lengthAdjust="spacing" xml:space="preserve">strutturali ed funzionali di una</text>
<text class="t" x="106.70" y="1270.90" textLength="308.20" lengthAdjust="spacing" xml:space="preserve">proteina (in modo non casuale ma</text>
<text class="t" x="107.70" y="1302.40" textLength="280.10" lengthAdjust="spacing" xml:space="preserve">si parla di meccanismi regolati)</text>
<text class="t" x="107.70" y="1333.90" textLength="298.70" lengthAdjust="spacing" xml:space="preserve">creazione/eliminazione di codoni</text>
<text class="t" x="107.70" y="1365.40" textLength="285.30" lengthAdjust="spacing" xml:space="preserve">di inizio o terminazione fino alla</text>
<text class="t" x="107.70" y="1396.90" textLength="291.50" lengthAdjust="spacing" xml:space="preserve">creazione di open reading frame</text>
<text class="t" x="106.70" y="1428.40" textLength="290.30" lengthAdjust="spacing" xml:space="preserve">(ORF), cioè chiavi di lettura della</text>
<text class="t" x="106.70" y="1459.90" textLength="304.30" lengthAdjust="spacing" xml:space="preserve">proteina completamente diverse.</text>
<text class="t" x="249.00" y="1176.40" textLength="115.20" lengthAdjust="spacing" xml:space="preserve">conseguente</text>
</g>
<path d="M223.2,1170.6 H240 M234.2,1165.2 L240.4,1170.6 L234.2,1176" fill="none" stroke="#111" stroke-width="1.9" stroke-linejoin="miter"/>
<circle cx="117.2" cy="67.8" r="3.5" fill="#111"/>
<circle cx="117.2" cy="99.3" r="3.5" fill="#111"/>
<circle cx="78.4" cy="1139.6" r="3.5" fill="#111"/>
<circle cx="78.4" cy="1328.6" r="3.5" fill="#111"/>
</svg></body></html>
